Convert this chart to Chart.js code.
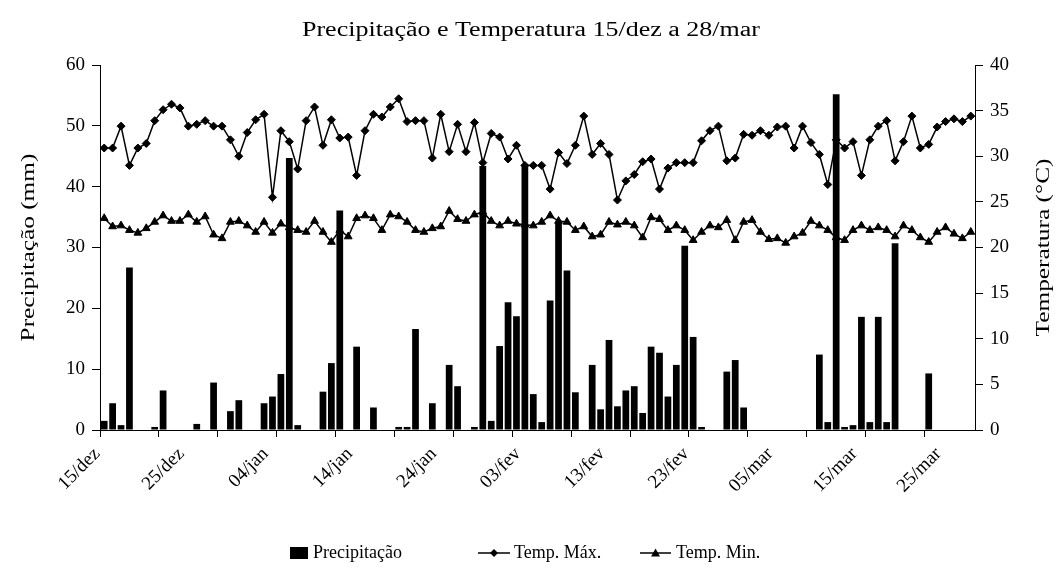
<!DOCTYPE html>
<html>
<head>
<meta charset="utf-8">
<script src="https://cdn.jsdelivr.net/npm/chart.js@4.4.0/dist/chart.umd.min.js"></script>
<style>
  html, body { margin: 0; padding: 0; background: #fff; }
  #wrap { width: 1062px; height: 574px; position: relative; }
  canvas { display: block; }
</style>
</head>
<body>
<div id="wrap"><canvas id="c" width="1062" height="574"></canvas></div>
<script>
const categories = [
  '15/dez','16/dez','17/dez','18/dez','19/dez','20/dez','21/dez','22/dez','23/dez','24/dez',
  '25/dez','26/dez','27/dez','28/dez','29/dez','30/dez','31/dez',
  '01/jan','02/jan','03/jan','04/jan','05/jan','06/jan','07/jan','08/jan','09/jan','10/jan',
  '11/jan','12/jan','13/jan','14/jan','15/jan','16/jan','17/jan','18/jan','19/jan','20/jan',
  '21/jan','22/jan','23/jan','24/jan','25/jan','26/jan','27/jan','28/jan','29/jan','30/jan','31/jan',
  '01/fev','02/fev','03/fev','04/fev','05/fev','06/fev','07/fev','08/fev','09/fev','10/fev',
  '11/fev','12/fev','13/fev','14/fev','15/fev','16/fev','17/fev','18/fev','19/fev','20/fev',
  '21/fev','22/fev','23/fev','24/fev','25/fev','26/fev','27/fev','28/fev',
  '01/mar','02/mar','03/mar','04/mar','05/mar','06/mar','07/mar','08/mar','09/mar','10/mar',
  '11/mar','12/mar','13/mar','14/mar','15/mar','16/mar','17/mar','18/mar','19/mar','20/mar',
  '21/mar','22/mar','23/mar','24/mar','25/mar','26/mar','27/mar','28/mar'
];

const precipitacao = [
  1.5,4.4,0.8,26.7,0,0,0.5,6.5,0,0,
  0,1.0,0,7.8,0,3.1,4.9,0,0,4.4,
  5.5,9.2,44.7,0.8,0,0,6.3,11.0,36.1,0,
  13.7,0,3.7,0,0,0.5,0.5,16.6,0,4.4,
  0,10.7,7.2,0,0.5,43.4,1.5,13.8,21.0,18.7,
  43.6,5.9,1.3,21.3,34.2,26.2,6.2,0,10.7,3.4,
  14.8,3.9,6.5,7.2,2.8,13.7,12.7,5.5,10.7,30.3,
  15.3,0.5,0,0,9.6,11.5,3.7,0,0,0,
  0,0,0,0,0,12.4,1.3,55.2,0.5,0.8,
  18.6,1.3,18.6,1.3,30.7,0,0,0,9.3,0,
  0,0,0,0
];

const tempMax = [
  30.9,30.9,33.3,29.0,30.9,31.4,33.9,35.1,35.7,35.3,
  33.3,33.5,33.9,33.3,33.3,31.8,30.0,32.6,34.0,34.6,
  25.5,32.8,31.6,28.6,33.9,35.4,31.2,34.0,32.0,32.1,
  27.9,32.8,34.6,34.3,35.4,36.3,33.8,33.9,33.9,29.8,
  34.6,30.5,33.5,30.5,33.7,29.3,32.5,32.1,29.7,31.2,
  29.0,29.0,29.0,26.4,30.4,29.2,31.2,34.4,30.2,31.4,
  30.2,25.2,27.3,28.0,29.4,29.7,26.4,28.7,29.3,29.3,
  29.3,31.7,32.8,33.3,29.5,29.8,32.4,32.3,32.8,32.3,
  33.2,33.3,30.9,33.3,31.5,30.2,26.9,31.8,30.9,31.6,
  27.9,31.8,33.3,33.9,29.5,31.6,34.4,30.9,31.3,33.2,
  33.8,34.1,33.8,34.4
];

const tempMin = [
  23.2,22.3,22.4,21.9,21.6,22.1,22.8,23.5,22.9,22.9,
  23.6,22.8,23.4,21.4,21.0,22.8,22.9,22.4,21.7,22.8,
  21.6,22.6,22.2,21.9,21.7,22.9,21.7,20.6,21.9,21.2,
  23.2,23.5,23.2,21.9,23.6,23.4,22.8,21.9,21.7,22.1,
  22.3,24.0,23.1,22.9,23.6,23.9,22.9,22.4,22.9,22.6,
  22.5,22.4,22.8,23.5,22.9,22.8,21.9,22.3,21.2,21.4,
  22.8,22.5,22.8,22.4,21.1,23.3,23.1,21.9,22.4,21.9,
  20.8,21.7,22.4,22.2,23.0,20.8,22.8,23.0,21.7,20.9,
  21.0,20.5,21.2,21.6,22.9,22.4,21.9,21.1,20.8,21.9,
  22.4,21.9,22.2,21.9,21.2,22.4,21.9,21.1,20.6,21.7,
  22.2,21.5,21.0,21.7
];

const leftTicks = [0, 10, 20, 30, 40, 50, 60];
const rightTicks = [0, 5, 10, 15, 20, 25, 30, 35, 40];

const titleText = 'Precipitação e Temperatura 15/dez a 28/mar';
const leftAxisTitle = 'Precipitação (mm)';
const rightAxisTitle = 'Temperatura (°C)';
const legendLabels = ['Precipitação', 'Temp. Máx.', 'Temp. Min.'];

const SERIF = '"Liberation Serif", "Times New Roman", serif';
Chart.defaults.font.family = SERIF;
Chart.defaults.color = '#000';

// Title and axis titles in the reference use a wide Times face:
// widen those glyphs along the text direction (fonts sized 20px / 19.5px only).
const canvas = document.getElementById('c');
const ctx2d = canvas.getContext('2d');
const SX = 1.3;
const wide = (c) => /(^|\s)(20px|19\.5px)/.test(c.font);
const origFill = ctx2d.fillText.bind(ctx2d);
const origMeasure = ctx2d.measureText.bind(ctx2d);
ctx2d.fillText = function (text, x, y, maxWidth) {
  if (!wide(this)) {
    if (maxWidth !== undefined && maxWidth !== null) return origFill(text, x, y, maxWidth);
    return origFill(text, x, y);
  }
  this.save();
  this.translate(x, y);
  this.scale(SX, 1);
  if (maxWidth !== undefined && maxWidth !== null) origFill(text, 0, 0, maxWidth / SX);
  else origFill(text, 0, 0);
  this.restore();
};
ctx2d.measureText = function (text) {
  const m = origMeasure(text);
  if (!wide(this)) return m;
  return {
    width: m.width * SX,
    actualBoundingBoxLeft: m.actualBoundingBoxLeft * SX,
    actualBoundingBoxRight: m.actualBoundingBoxRight * SX,
    actualBoundingBoxAscent: m.actualBoundingBoxAscent,
    actualBoundingBoxDescent: m.actualBoundingBoxDescent,
    fontBoundingBoxAscent: m.fontBoundingBoxAscent,
    fontBoundingBoxDescent: m.fontBoundingBoxDescent
  };
};

const rightTitlePlugin = {
  id: 'rightTitle',
  afterDraw(chart) {
    const ctx = chart.ctx;
    const a = chart.chartArea;
    ctx.save();
    ctx.font = '19.5px ' + SERIF;
    ctx.fillStyle = '#000';
    ctx.translate(1044, (a.top + a.bottom) / 2);
    ctx.rotate(-Math.PI / 2);
    ctx.textAlign = 'center';
    ctx.textBaseline = 'middle';
    ctx.fillText(rightAxisTitle, 0, 0);
    ctx.restore();
  }
};

const legendPlugin = {
  id: 'customLegend',
  afterDraw(chart) {
    const ctx = chart.ctx;
    const y = 553;
    ctx.save();
    ctx.fillStyle = '#000';
    ctx.strokeStyle = '#000';
    ctx.font = '18px ' + SERIF;
    ctx.textBaseline = 'middle';
    ctx.textAlign = 'left';
    // bar key
    ctx.fillRect(290, y - 6, 18, 12);
    ctx.fillText(legendLabels[0], 313, y);
    // max key
    ctx.lineWidth = 1.5;
    ctx.beginPath(); ctx.moveTo(478, y); ctx.lineTo(510, y); ctx.stroke();
    let cx = 494;
    ctx.beginPath(); ctx.moveTo(cx, y - 4); ctx.lineTo(cx + 4, y); ctx.lineTo(cx, y + 4); ctx.lineTo(cx - 4, y); ctx.closePath(); ctx.fill();
    ctx.fillText(legendLabels[1], 514, y);
    // min key
    ctx.beginPath(); ctx.moveTo(640, y); ctx.lineTo(671, y); ctx.stroke();
    cx = 655.5;
    ctx.beginPath(); ctx.moveTo(cx, y - 4.5); ctx.lineTo(cx + 4.5, y + 3.5); ctx.lineTo(cx - 4.5, y + 3.5); ctx.closePath(); ctx.fill();
    ctx.fillText(legendLabels[2], 676, y);
    ctx.restore();
  }
};

new Chart(canvas, {
  data: {
    labels: categories,
    datasets: [
      {
        type: 'bar', label: legendLabels[0], data: precipitacao, yAxisID: 'y',
        backgroundColor: '#000', borderWidth: 0,
        barPercentage: 0.8, categoryPercentage: 1.0, order: 2
      },
      {
        type: 'line', label: legendLabels[1], data: tempMax, yAxisID: 'y1',
        borderColor: '#000', borderWidth: 1.5, tension: 0,
        pointStyle: 'rectRot', pointRadius: 4, pointBackgroundColor: '#000',
        pointBorderColor: '#000', pointBorderWidth: 1, order: 1
      },
      {
        type: 'line', label: legendLabels[2], data: tempMin, yAxisID: 'y1',
        borderColor: '#000', borderWidth: 1.5, tension: 0,
        pointStyle: 'triangle', pointRadius: 4.5, pointBackgroundColor: '#000',
        pointBorderColor: '#000', pointBorderWidth: 1, order: 1
      }
    ]
  },
  options: {
    responsive: false,
    animation: false,
    devicePixelRatio: 1,
    layout: { padding: { top: 0, left: 0, right: 0, bottom: 0 } },
    plugins: {
      legend: { display: false },
      tooltip: { enabled: false },
      title: {
        display: true, text: titleText, color: '#000',
        font: { size: 20, weight: 'normal', family: SERIF },
        padding: { top: 19, bottom: 22 }
      }
    },
    scales: {
      x: {
        type: 'category', offset: true,
        grid: {
          display: true, drawOnChartArea: false, drawTicks: true, tickLength: 7, offset: true,
          tickColor: (c) => (c.index !== undefined && c.index % 7 === 0) ? '#000' : 'rgba(0,0,0,0)',
          color: 'rgba(0,0,0,0)'
        },
        border: { display: true, color: '#000', width: 1 },
        ticks: {
          autoSkip: false, maxRotation: 45, minRotation: 45, padding: 6, labelOffset: -7,
          font: { size: 19, family: SERIF }, color: '#000',
          callback: (v, i) => (i % 10 === 0 ? categories[i] : '')
        },
        afterFit: (s) => { s.height = 144; }
      },
      y: {
        type: 'linear', position: 'left', min: 0, max: 60,
        grid: { drawOnChartArea: false, drawTicks: true, tickLength: 8, color: '#000' },
        border: { display: true, color: '#000', width: 1 },
        ticks: {
          stepSize: 10, padding: 7, font: { size: 19, family: SERIF }, color: '#000',
          callback: (v) => leftTicks.includes(v) ? String(v) : null
        },
        title: {
          display: true, text: leftAxisTitle, color: '#000',
          font: { size: 19.5, family: SERIF }, padding: { top: 17, bottom: 0 }
        },
        afterFit: (s) => { s.width = 100; }
      },
      y1: {
        type: 'linear', position: 'right', min: 0, max: 40,
        grid: { drawOnChartArea: false, drawTicks: true, tickLength: 8, color: '#000' },
        border: { display: true, color: '#000', width: 1 },
        ticks: {
          stepSize: 5, padding: 7, font: { size: 19, family: SERIF }, color: '#000',
          callback: (v) => rightTicks.includes(v) ? String(v) : null
        },
        afterFit: (s) => { s.width = 87; }
      }
    }
  },
  plugins: [rightTitlePlugin, legendPlugin]
});
</script>
</body>
</html>
